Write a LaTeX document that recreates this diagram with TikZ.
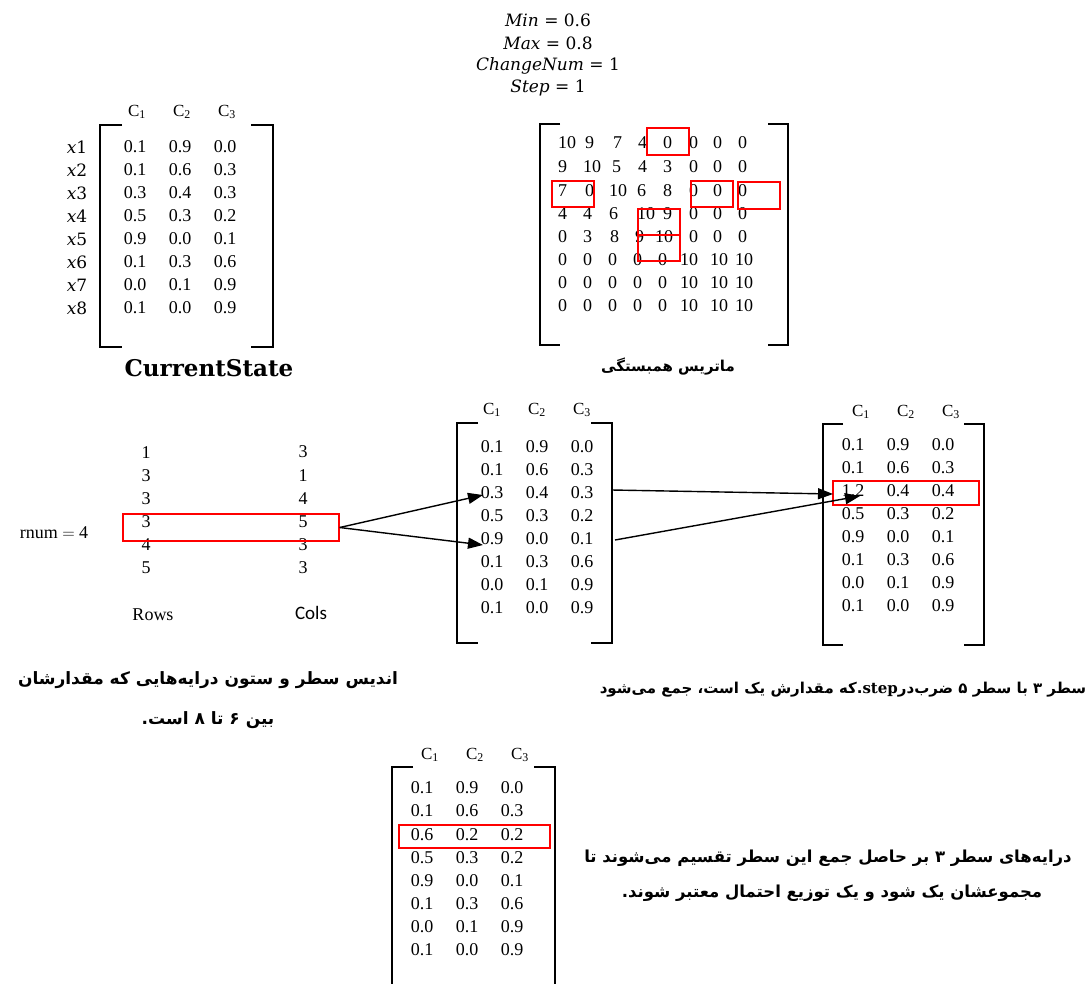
\documentclass[tikz,border=0pt]{standalone}
\usepackage{fontspec}
\setmainfont{Liberation Serif}
\newfontfamily\fa[Script=Arabic]{DejaVu Sans}
\newfontfamily\dejaserif{DejaVu Serif}
\newfontfamily\calib{Carlito}
\TeXXeTstate=1
\usetikzlibrary{arrows.meta}
\tikzset{
  num/.style={inner sep=0pt, font=\fontsize{18}{20}\selectfont},
  hdr/.style={inner sep=0pt, font=\fontsize{17}{20}\selectfont},
  info/.style={inner sep=0pt, font=\dejaserif\fontsize{17}{20}\selectfont},
  brk/.style={line width=1.8pt},
  redbox/.style={draw=red, line width=1.4pt},
  arr/.style={line width=1.4pt, -{Triangle[length=15pt,width=11pt]}},
  facap/.style={inner sep=0pt, font=\fa\bfseries\fontsize{17}{20}\selectfont},
  bigbold/.style={inner sep=0pt, font=\dejaserif\bfseries\fontsize{23}{26}\selectfont},
}
\newcommand\pmrows[5]{%
 \foreach \i/\a/\b/\c in {1/0.1/0.9/0.0,2/0.1/0.6/0.3,3/#5,4/0.5/0.3/0.2,5/0.9/0.0/0.1,6/0.1/0.3/0.6,7/0.0/0.1/0.9,8/0.1/0.0/0.9}{%
  \node[num] (#1-\i-1) at ({#2},{#3+#4*(\i-1)}) {\a};
  \node[num] (#1-\i-2) at ({#2+45},{#3+#4*(\i-1)}) {\b};
  \node[num] (#1-\i-3) at ({#2+90},{#3+#4*(\i-1)}) {\c};
 }}
\newcommand\pmhead[3]{%
  \node[hdr] (#1-h1) at ({#2},{#3}) {C\textsubscript{1}};
  \node[hdr] (#1-h2) at ({#2+45},{#3}) {C\textsubscript{2}};
  \node[hdr] (#1-h3) at ({#2+90},{#3}) {C\textsubscript{3}};}
\newcommand\pmbrackets[5]{%
  \draw[brk] ({#1+#5},{#3}) -- ({#1},{#3}) -- ({#1},{#4}) -- ({#1+#5},{#4});
  \draw[brk] ({#2-#5},{#3}) -- ({#2},{#3}) -- ({#2},{#4}) -- ({#2-#5},{#4});}
\begin{document}
\begin{tikzpicture}[x=1pt,y=-1pt]
\useasboundingbox[fill=white] (0,0) rectangle (1091,983);

% parameters
\node[info] (p1) at (548,20) {\textit{Min} = 0.6};
\node[info] (p2) at (548,43) {\textit{Max} = 0.8};
\node[info] (p3) at (548,66) {\textit{ChangeNum} = 1};
\node[info] (p4) at (548,88) {\textit{Step} = 1};

% CurrentState matrix
\pmbrackets{100}{273}{125}{347}{22}
\pmhead{cs}{137}{112}
\pmrows{cs}{135}{147}{23}{0.3/0.4/0.3}
\foreach \i in {1,...,8} \node[info] (xl\i) at (77,{147+23*(\i-1)}) {\textit{x}\i};
\node[bigbold] (cstitle) at (209,368) {CurrentState};

% correlation matrix
\pmbrackets{540}{788}{124}{345}{20}
\foreach \v/\x [count=\j] in {10/558,9/585,7/613,4/638,0/663,0/689,0/713,0/738}
  \node[num,anchor=west] (m1-\j) at (\x,143) {\v};
\foreach \v/\x [count=\j] in {9/558,10/583,5/612,4/638,3/663,0/689,0/713,0/738}
  \node[num,anchor=west] (m2-\j) at (\x,167) {\v};
\foreach \v/\x [count=\j] in {7/558,0/585,10/609,6/637,8/663,0/689,0/713,0/738}
  \node[num,anchor=west] (m3-\j) at (\x,191) {\v};
\foreach \v/\x [count=\j] in {4/558,4/583,6/609,10/637,9/663,0/689,0/713,0/738}
  \node[num,anchor=west] (m4-\j) at (\x,214) {\v};
\foreach \v/\x [count=\j] in {0/558,3/583,8/610,9/635,10/655,0/689,0/713,0/738}
  \node[num,anchor=west] (m5-\j) at (\x,237) {\v};
\foreach \r/\y in {6/260,7/283,8/306}
  \foreach \v/\x [count=\j] in {0/558,0/583,0/608,0/633,0/658,10/680,10/710,10/735}
    \node[num,anchor=west] (m\r-\j) at (\x,\y) {\v};
\draw[redbox] (647,128) rectangle (689,155);
\draw[redbox] (552,181) rectangle (594,207);
\draw[redbox] (691,181) rectangle (733,207);
\draw[redbox] (738,182) rectangle (780,209);
\draw[redbox] (638,209) rectangle (680,235);
\draw[redbox] (638,235) rectangle (680,261);
\node[facap,font=\fa\bfseries\fontsize{15}{20}\selectfont] (corrtitle) at (668,367) {\beginR ماتریس همبستگی\endR};

% rows / cols
\node[num] (rnum) at (54,533) {rnum $=$ 4};
\foreach \v [count=\i] in {1,3,3,3,4,5} \node[num] (r\i) at (146,{453+23*(\i-1)}) {\v};
\foreach \v [count=\i] in {3,1,4,5,3,3} \node[num] (c\i) at (303,{452+23.2*(\i-1)}) {\v};
\node[num] (rowslbl) at (153,615) {Rows};
\node[num,font=\calib\fontsize{19}{20}\selectfont] (colslbl) at (311,613) {Cols};
\node[redbox,inner sep=0pt,minimum width=216pt,minimum height=27pt] (sel) at (231,527.5) {};

% middle matrix
\pmbrackets{457}{612}{423}{643}{21}
\pmhead{mm}{492}{410}
\pmrows{mm}{492}{447}{23}{0.3/0.4/0.3}

% right matrix
\pmbrackets{823}{984}{424}{645}{20}
\pmhead{rm}{861}{412}
\pmrows{rm}{853}{445}{23}{1.2/0.4/0.4}
\node[redbox,inner sep=0pt,minimum width=146pt,minimum height=24pt] (rsel) at (906,493) {};

% arrows
\coordinate (t1) at (483,495);
\coordinate (t2) at (483,545);
\draw[arr] (sel.east) -- (t1);
\draw[arr] (sel.east) -- (t2);
\coordinate (s1) at (612,490);
\coordinate (s2) at (615,540);
\coordinate (t3) at (833,494);
\coordinate (t4) at (860,496);
\draw[arr] (s1) -- (t3);
\draw[arr] (s2) -- (t4);

% captions
\node[facap] (capA1) at (208,680) {\beginR اندیس سطر و ستون درایه^^^^200cهایی که مقدارشان\endR};
\node[facap] (capA2) at (208,720) {\beginR بین ۶ تا ۸ است.\endR};
\node[facap,font=\fa\bfseries\fontsize{15}{20}\selectfont] (capB) at (843,690) {\beginR سطر ۳ با سطر ۵ ضرب^^^^200cدر\beginL{\dejaserif\bfseries step}\endL.که مقدارش یک است، جمع می^^^^200cشود\endR};

% bottom matrix
\pmbrackets{392}{555}{767}{1000}{21}
\pmhead{bm}{430}{755}
\pmrows{bm}{422}{788}{23.1}{0.6/0.2/0.2}
\node[redbox,inner sep=0pt,minimum width=151pt,minimum height=23pt] (bsel) at (474.5,836.5) {};
\node[facap,font=\fa\bfseries\fontsize{16.5}{20}\selectfont] (capC1) at (828,858) {\beginR درایه^^^^200cهای سطر ۳ بر حاصل جمع این سطر تقسیم می^^^^200cشوند تا\endR};
\node[facap,font=\fa\bfseries\fontsize{16.5}{20}\selectfont] (capC2) at (832,893) {\beginR مجموعشان یک شود و یک توزیع احتمال معتبر شوند.\endR};
\end{tikzpicture}
\end{document}
